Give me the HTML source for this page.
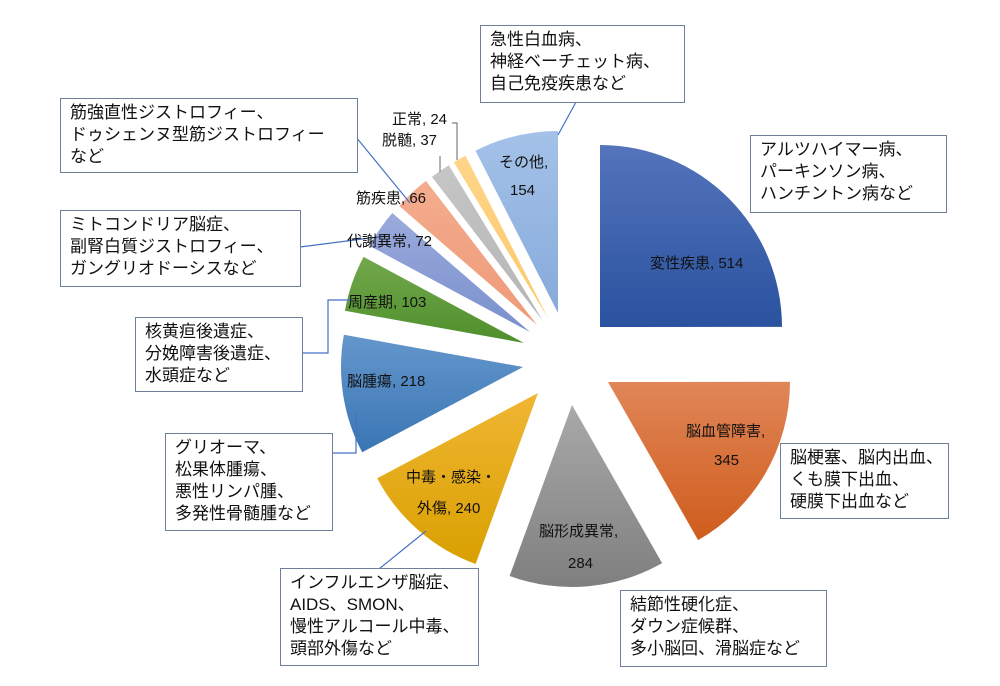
<!DOCTYPE html>
<html><head><meta charset="utf-8"><style>
html,body{margin:0;padding:0;background:#fff;}
body{width:1000px;height:686px;position:relative;overflow:hidden;font-family:"Liberation Sans","Noto Sans CJK JP",sans-serif;}
.box{position:absolute;border:1px solid #6f7f99;background:#fff;font-size:17px;line-height:22px;color:#111;padding:3px 9px;box-sizing:border-box;white-space:nowrap;}
.lb{position:absolute;font-size:15px;color:#111;white-space:nowrap;}
svg{position:absolute;left:0;top:0;}
</style></head><body>
<svg id="s" width="1000" height="686" xmlns="http://www.w3.org/2000/svg">
<defs>
<linearGradient id="g0" x1="0" y1="0" x2="0" y2="1"><stop offset="0" stop-color="#5474bb"/><stop offset="1" stop-color="#2a529f"/></linearGradient>
<linearGradient id="g1" x1="0" y1="0" x2="0" y2="1"><stop offset="0" stop-color="#e08658"/><stop offset="1" stop-color="#cf5c1c"/></linearGradient>
<linearGradient id="g2" x1="0" y1="0" x2="0" y2="1"><stop offset="0" stop-color="#a9a9a9"/><stop offset="1" stop-color="#7f7f7f"/></linearGradient>
<linearGradient id="g3" x1="0" y1="0" x2="0" y2="1"><stop offset="0" stop-color="#f0b634"/><stop offset="1" stop-color="#d9a000"/></linearGradient>
<linearGradient id="g4" x1="0" y1="0" x2="0" y2="1"><stop offset="0" stop-color="#6496cc"/><stop offset="1" stop-color="#3a76b4"/></linearGradient>
<linearGradient id="g5" x1="0" y1="0" x2="0" y2="1"><stop offset="0" stop-color="#72a84c"/><stop offset="1" stop-color="#4f8f2c"/></linearGradient>
<linearGradient id="g6" x1="0" y1="0" x2="0" y2="1"><stop offset="0" stop-color="#9aaadc"/><stop offset="1" stop-color="#7a90cc"/></linearGradient>
<linearGradient id="g7" x1="0" y1="0" x2="0" y2="1"><stop offset="0" stop-color="#f4ac8e"/><stop offset="1" stop-color="#ee9a78"/></linearGradient>
<linearGradient id="g8" x1="0" y1="0" x2="0" y2="1"><stop offset="0" stop-color="#c6c6c6"/><stop offset="1" stop-color="#b4b4b4"/></linearGradient>
<linearGradient id="g9" x1="0" y1="0" x2="0" y2="1"><stop offset="0" stop-color="#ffd58a"/><stop offset="1" stop-color="#fcc86a"/></linearGradient>
<linearGradient id="g10" x1="0" y1="0" x2="0" y2="1"><stop offset="0" stop-color="#a4c2e8"/><stop offset="1" stop-color="#86aadb"/></linearGradient>
</defs>
<g id="pie"></g>
<g stroke="#4472c4" stroke-width="1.2" fill="none">
<polyline points="558,135 576,102"/>
<polyline points="356,137 410,203"/>
<polyline points="300,247 386,236"/>
<polyline points="300,353 328,353 328,300 352,300"/>
<polyline points="332,453 356,453 356,412"/>
<polyline points="426,531 379,569"/>
</g>
<g stroke="#7f7f7f" stroke-width="1.2" fill="none">
<polyline points="452,123 457,123 457,160"/>
<polyline points="440,156 440,172"/>
</g>
</svg>
<script>
(function(){
var v=[514,345,284,240,218,103,72,66,37,24,154];
var ap=[[600,327],[608,382],[572,405],[538,393],[523,367],[524,343],[530,332],[537,325],[543,321],[548,318],[558,313]];
var R=182,tot=0;v.forEach(function(x){tot+=x});
var a=0,h='';
for(var i=0;i<v.length;i++){
var a1=a,a2=a+v[i]/tot*360;a=a2;
var r1=a1*Math.PI/180,r2=a2*Math.PI/180;
var cx=ap[i][0],cy=ap[i][1];
var x1=cx+R*Math.sin(r1),y1=cy-R*Math.cos(r1),x2=cx+R*Math.sin(r2),y2=cy-R*Math.cos(r2);
var lg=(a2-a1)>180?1:0;
h+='<path d="M'+cx+','+cy+' L'+x1.toFixed(1)+','+y1.toFixed(1)+' A'+R+','+R+' 0 '+lg+' 1 '+x2.toFixed(1)+','+y2.toFixed(1)+' Z" fill="url(#g'+i+')"/>';
}
document.getElementById('pie').innerHTML=h;
})();
</script>
<div class="lb" style="left:650px;top:252px;">変性疾患, 514</div>
<div class="lb" style="left:686px;top:420px;">脳血管障害,</div>
<div class="lb" style="left:714px;top:452px;">345</div>
<div class="lb" style="left:539px;top:520px;">脳形成異常,</div>
<div class="lb" style="left:568px;top:555px;">284</div>
<div class="lb" style="left:406px;top:466px;">中毒・感染・</div>
<div class="lb" style="left:417px;top:497px;">外傷, 240</div>
<div class="lb" style="left:347px;top:370px;">脳腫瘍, 218</div>
<div class="lb" style="left:348px;top:291px;">周産期, 103</div>
<div class="lb" style="left:347px;top:230px;">代謝異常, 72</div>
<div class="lb" style="left:356px;top:187px;">筋疾患, 66</div>
<div class="lb" style="left:382px;top:129px;">脱髄, 37</div>
<div class="lb" style="left:392px;top:108px;">正常, 24</div>
<div class="lb" style="left:499px;top:151px;">その他,</div>
<div class="lb" style="left:510px;top:182px;">154</div>
<div class="box" style="left:480px;top:25px;width:205px;height:78px;">急性白血病、<br>神経ベーチェット病、<br>自己免疫疾患など</div>
<div class="box" style="left:750px;top:135px;width:197px;height:78px;">アルツハイマー病、<br>パーキンソン病、<br>ハンチントン病など</div>
<div class="box" style="left:60px;top:98px;width:298px;height:75px;">筋強直性ジストロフィー、<br>ドゥシェンヌ型筋ジストロフィー<br>など</div>
<div class="box" style="left:60px;top:210px;width:241px;height:77px;">ミトコンドリア脳症、<br>副腎白質ジストロフィー、<br>ガングリオドーシスなど</div>
<div class="box" style="left:135px;top:317px;width:168px;height:75px;">核黄疸後遺症、<br>分娩障害後遺症、<br>水頭症など</div>
<div class="box" style="left:165px;top:433px;width:168px;height:98px;">グリオーマ、<br>松果体腫瘍、<br>悪性リンパ腫、<br>多発性骨髄腫など</div>
<div class="box" style="left:780px;top:443px;width:169px;height:76px;">脳梗塞、脳内出血、<br>くも膜下出血、<br>硬膜下出血など</div>
<div class="box" style="left:280px;top:568px;width:199px;height:98px;">インフルエンザ脳症、<br>AIDS、SMON、<br>慢性アルコール中毒、<br>頭部外傷など</div>
<div class="box" style="left:620px;top:590px;width:207px;height:77px;">結節性硬化症、<br>ダウン症候群、<br>多小脳回、滑脳症など</div>
</body></html>
